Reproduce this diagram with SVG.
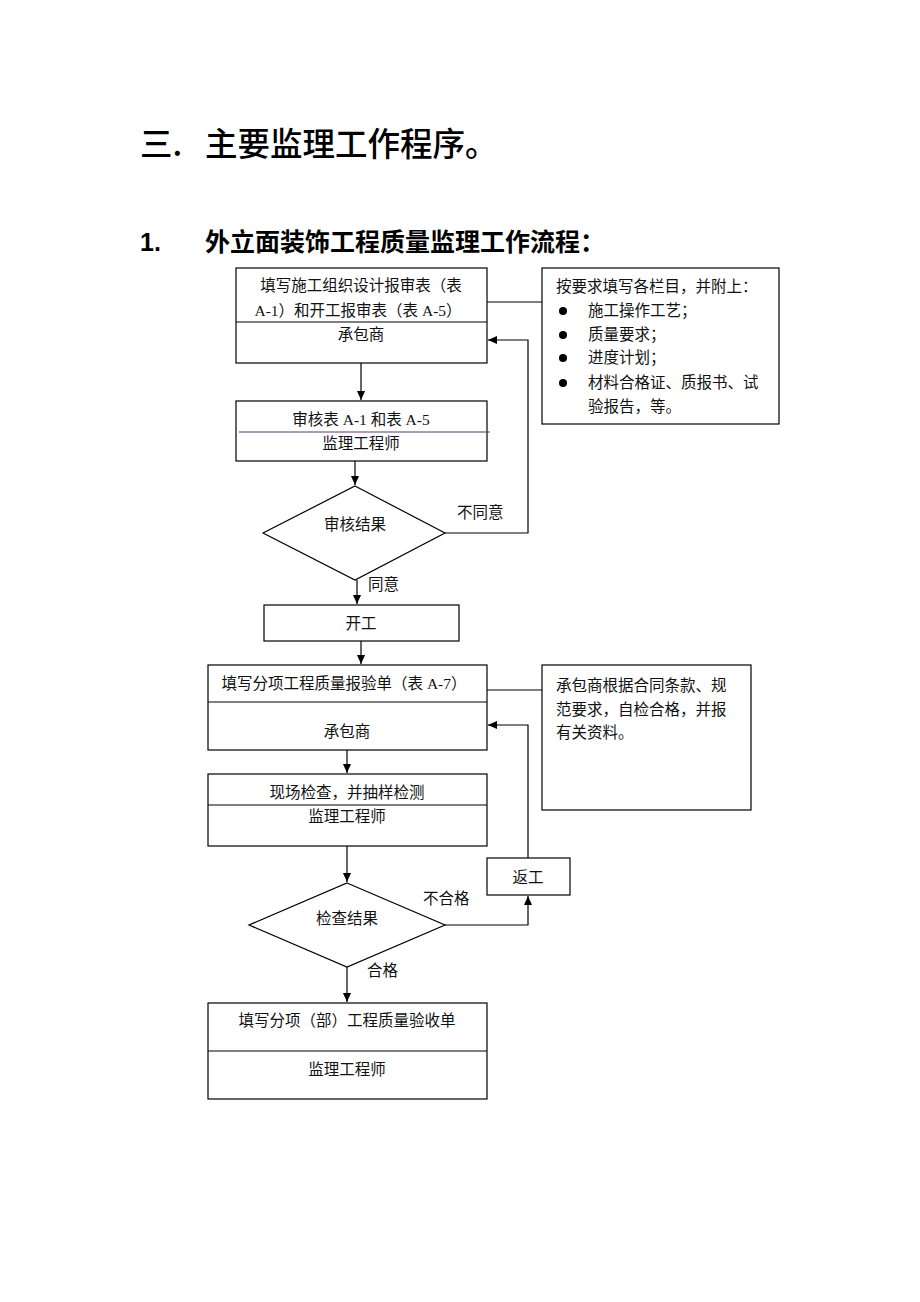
<svg xmlns="http://www.w3.org/2000/svg" width="920" height="1302" viewBox="0 0 920 1302">
<style>
.b{fill:#fff;stroke:#000;stroke-width:1.2}
.l{fill:none;stroke:#000;stroke-width:1.2}
.t{font-family:"Liberation Serif","Noto Sans CJK SC",serif;font-size:15.5px;fill:#111}
.c{text-anchor:middle}
.h1{font-family:"Noto Sans CJK SC",sans-serif;font-size:32.5px;font-weight:500;fill:#000}
.h2{font-family:"Liberation Sans","Noto Sans CJK SC",sans-serif;font-size:25px;font-weight:bold;fill:#000}
</style>
<defs>
<marker id="a" markerWidth="10" markerHeight="10" refX="9" refY="5" orient="auto" markerUnits="userSpaceOnUse">
<path d="M0,1 L9,5 L0,9 Z" fill="#000"/>
</marker>
</defs>
<rect width="920" height="1302" fill="#fff"/>
<g id="title">
<text class="h1" x="140" y="156">三.</text>
<text class="h1" x="205" y="156">主要监理工作程序。</text>
<text class="h2" x="140" y="251">1.</text>
<text class="h2" x="205" y="251">外立面装饰工程质量监理工作流程：</text>
</g>
<g id="connectors">
<path class="l" d="M487,302 H542"/>
<path class="l" d="M361,363 V400" marker-end="url(#a)"/>
<path class="l" d="M355,461 V485" marker-end="url(#a)"/>
<path class="l" d="M445,533 H528 V340 H488" marker-end="url(#a)"/>
<path class="l" d="M357,580 V604" marker-end="url(#a)"/>
<path class="l" d="M361,641 V664" marker-end="url(#a)"/>
<path class="l" d="M487,690 H542"/>
<path class="l" d="M347,750 V773" marker-end="url(#a)"/>
<path class="l" d="M347,846 V882" marker-end="url(#a)"/>
<path class="l" d="M445,925 H528 V896" marker-end="url(#a)"/>
<path class="l" d="M528,858 V725 H488" marker-end="url(#a)"/>
<path class="l" d="M347,967 V1002" marker-end="url(#a)"/>
<text class="t" x="457" y="518">不同意</text>
<text class="t" x="368" y="590">同意</text>
<text class="t" x="423" y="904">不合格</text>
<text class="t" x="367" y="976">合格</text>
</g>
<g id="n1">
<rect class="b" x="236" y="268" width="251" height="95"/>
<path class="l" d="M236,322 H487"/>
<text class="t c" x="361" y="291">填写施工组织设计报审表（表</text>
<text class="t c" x="358" y="316">A-1）和开工报审表（表 A-5）</text>
<text class="t c" x="361" y="340">承包商</text>
</g>
<g id="note1">
<rect class="b" x="542" y="268" width="237" height="156"/>
<text class="t" x="556" y="292">按要求填写各栏目，并附上：</text>
<circle cx="563" cy="311" r="4" fill="#000"/>
<circle cx="563" cy="335" r="4" fill="#000"/>
<circle cx="563" cy="358" r="4" fill="#000"/>
<circle cx="563" cy="383" r="4" fill="#000"/>
<text class="t" x="588" y="316">施工操作工艺；</text>
<text class="t" x="588" y="340">质量要求；</text>
<text class="t" x="588" y="363">进度计划；</text>
<text class="t" x="588" y="388">材料合格证、质报书、试</text>
<text class="t" x="588" y="412">验报告，等。</text>
</g>
<g id="n2">
<rect class="b" x="236" y="401" width="251" height="60"/>
<path d="M239,432 H490" stroke="#5a3a6a" stroke-width="1.2"/>
<text class="t c" x="361" y="425">审核表 A-1 和表 A-5</text>
<text class="t c" x="361" y="449">监理工程师</text>
</g>
<g id="d1">
<path class="b" d="M355,486 L445,533 L355,580 L263,533 Z"/>
<text class="t c" x="355" y="530">审核结果</text>
</g>
<g id="n3">
<rect class="b" x="264" y="605" width="195" height="36"/>
<text class="t c" x="361" y="629">开工</text>
</g>
<g id="n4">
<rect class="b" x="208" y="665" width="279" height="85"/>
<path class="l" d="M208,702 H487"/>
<text class="t c" x="344" y="689">填写分项工程质量报验单（表 A-7）</text>
<text class="t c" x="347" y="737">承包商</text>
</g>
<g id="note2">
<rect class="b" x="542" y="665" width="209" height="145"/>
<text class="t" x="556" y="691">承包商根据合同条款、规</text>
<text class="t" x="556" y="715">范要求，自检合格，并报</text>
<text class="t" x="556" y="738">有关资料。</text>
</g>
<g id="n5">
<rect class="b" x="208" y="774" width="279" height="72"/>
<path class="l" d="M208,805 H487"/>
<text class="t c" x="347" y="798">现场检查，并抽样检测</text>
<text class="t c" x="347" y="822">监理工程师</text>
</g>
<g id="d2">
<path class="b" d="M347,883 L445,925 L347,967 L249,925 Z"/>
<text class="t c" x="347" y="924">检查结果</text>
</g>
<g id="n6">
<rect class="b" x="487" y="858" width="83" height="37"/>
<text class="t c" x="528" y="883">返工</text>
</g>
<g id="n7">
<rect class="b" x="208" y="1003" width="279" height="96"/>
<path class="l" d="M208,1051 H487"/>
<text class="t c" x="347" y="1026">填写分项（部）工程质量验收单</text>
<text class="t c" x="347" y="1075">监理工程师</text>
</g>
</svg>
